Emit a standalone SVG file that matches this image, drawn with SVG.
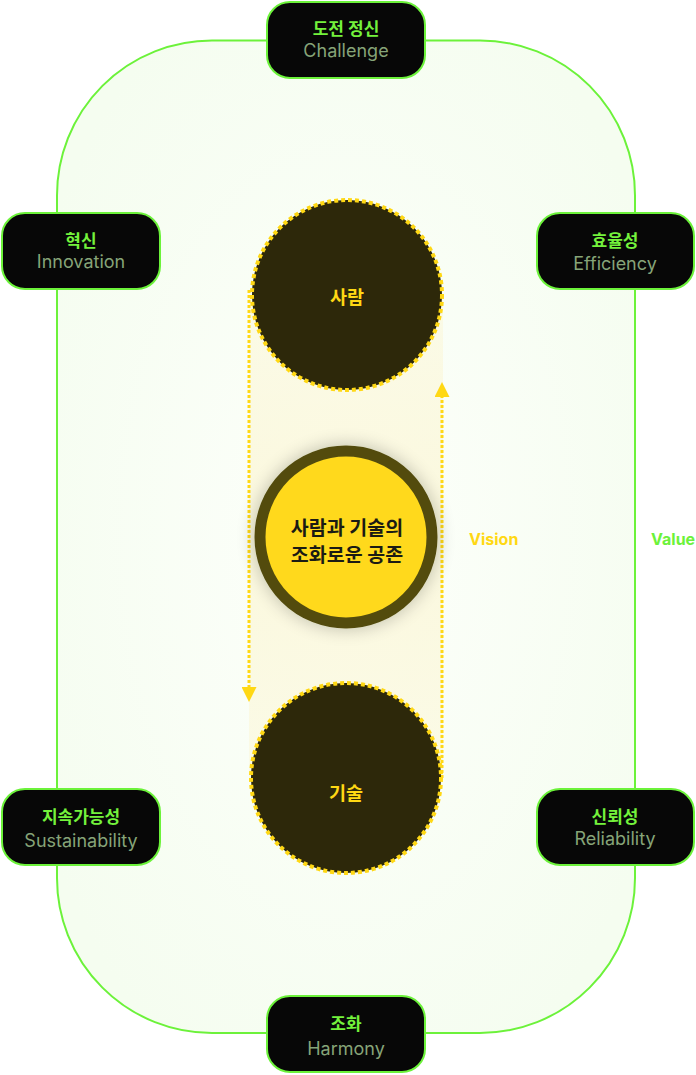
<svg xmlns="http://www.w3.org/2000/svg" width="696" height="1075" viewBox="0 0 696 1075">
<defs>
<style>
.node rect{fill:#070707;stroke:#6cf23a;stroke-width:2}
.ko{font-family:"Inter","Noto Sans CJK KR",sans-serif;font-weight:700;font-size:17px;fill:#74f23c;text-anchor:middle}
.en{font-family:"Inter","Noto Sans",sans-serif;font-weight:400;font-size:18px;fill:#86a478;text-anchor:middle}
.orb{fill:#2d280a;stroke:#ffd814;stroke-width:4;stroke-dasharray:4 3}
.orbt{font-family:"Inter","Noto Sans CJK KR",sans-serif;font-weight:700;font-size:18.5px;fill:#ffd814;text-anchor:middle}
.dot{stroke:#ffd814;stroke-width:3;stroke-dasharray:3 2;fill:none}
</style>
<radialGradient id="bg" cx="0.5" cy="0.5" r="0.6">
<stop offset="0" stop-color="#fdfffb"/>
<stop offset="1" stop-color="#f5fdf0"/>
</radialGradient>
<linearGradient id="band" x1="0" y1="0" x2="0" y2="1">
<stop offset="0" stop-color="#fbf8dc" stop-opacity="0.6"/>
<stop offset="0.5" stop-color="#fbf7da" stop-opacity="0.9"/>
<stop offset="1" stop-color="#fbf8dc" stop-opacity="0.6"/>
</linearGradient>
<filter id="glow" x="-50%" y="-50%" width="200%" height="200%">
<feGaussianBlur in="SourceAlpha" stdDeviation="9"/>
<feComponentTransfer><feFuncA type="linear" slope="0.25"/></feComponentTransfer>
<feMerge><feMergeNode/><feMergeNode in="SourceGraphic"/></feMerge>
</filter>
<marker id="arr" viewBox="0 0 16 15" refX="0" refY="7.5" markerWidth="16" markerHeight="15" markerUnits="userSpaceOnUse" orient="auto">
<path d="M0,0 L15,7.5 L0,15 Z" fill="#ffd814"/>
</marker>
</defs>

<g id="frame">
<rect x="57" y="40.5" width="578" height="992.5" rx="155" ry="155" fill="url(#bg)" stroke="#6cf23a" stroke-width="2"/>
</g>

<g id="band">
<rect x="249" y="295" width="194" height="484" fill="url(#band)"/>
</g>

<g id="connectors">
<line class="dot" x1="249" y1="290" x2="249" y2="687" marker-end="url(#arr)"/>
<line class="dot" x1="442" y1="778" x2="442" y2="397" marker-end="url(#arr)"/>
</g>

<g id="people">
<circle class="orb" cx="347" cy="295" r="95"/>
<text class="orbt" x="347" y="304">사람</text>
</g>

<g id="tech">
<circle class="orb" cx="346" cy="778" r="95"/>
<text class="orbt" x="346" y="800">기술</text>
</g>

<g id="center">
<circle cx="346" cy="537" r="86" fill="#ffd91a" stroke="#524c10" stroke-width="11" filter="url(#glow)"/>
<text x="347" y="535" font-family="Inter,'Noto Sans CJK KR',sans-serif" font-weight="700" font-size="19.5" fill="#1b1b14" text-anchor="middle">사람과 기술의</text>
<text x="347" y="562" font-family="Inter,'Noto Sans CJK KR',sans-serif" font-weight="700" font-size="19.5" fill="#1b1b14" text-anchor="middle">조화로운 공존</text>
</g>

<g id="vision">
<text x="469" y="545" font-family="Inter,'Noto Sans',sans-serif" font-weight="700" font-size="16" fill="#ffd814">Vision</text>
</g>
<g id="value">
<text x="651" y="545" font-family="Inter,'Noto Sans',sans-serif" font-weight="700" font-size="16" fill="#6cf23a">Value</text>
</g>

<g id="challenge" class="node">
<rect x="267" y="2" width="158" height="76" rx="23"/>
<text class="ko" x="346" y="35">도전 정신</text>
<text class="en" x="346" y="57">Challenge</text>
</g>

<g id="innovation" class="node">
<rect x="2" y="213" width="158" height="76" rx="23"/>
<text class="ko" x="81" y="247">혁신</text>
<text class="en" x="81" y="268">Innovation</text>
</g>

<g id="efficiency" class="node">
<rect x="537" y="213" width="157" height="76" rx="23"/>
<text class="ko" x="615" y="247">효율성</text>
<text class="en" x="615" y="270">Efficiency</text>
</g>

<g id="sustainability" class="node">
<rect x="2" y="789" width="158" height="76" rx="23"/>
<text class="ko" x="81" y="823">지속가능성</text>
<text class="en" x="81" y="847">Sustainability</text>
</g>

<g id="reliability" class="node">
<rect x="537" y="789" width="157" height="76" rx="23"/>
<text class="ko" x="615" y="823">신뢰성</text>
<text class="en" x="615" y="845">Reliability</text>
</g>

<g id="harmony" class="node">
<rect x="267" y="996" width="158" height="76" rx="23"/>
<text class="ko" x="346" y="1030">조화</text>
<text class="en" x="346" y="1055">Harmony</text>
</g>
</svg>
